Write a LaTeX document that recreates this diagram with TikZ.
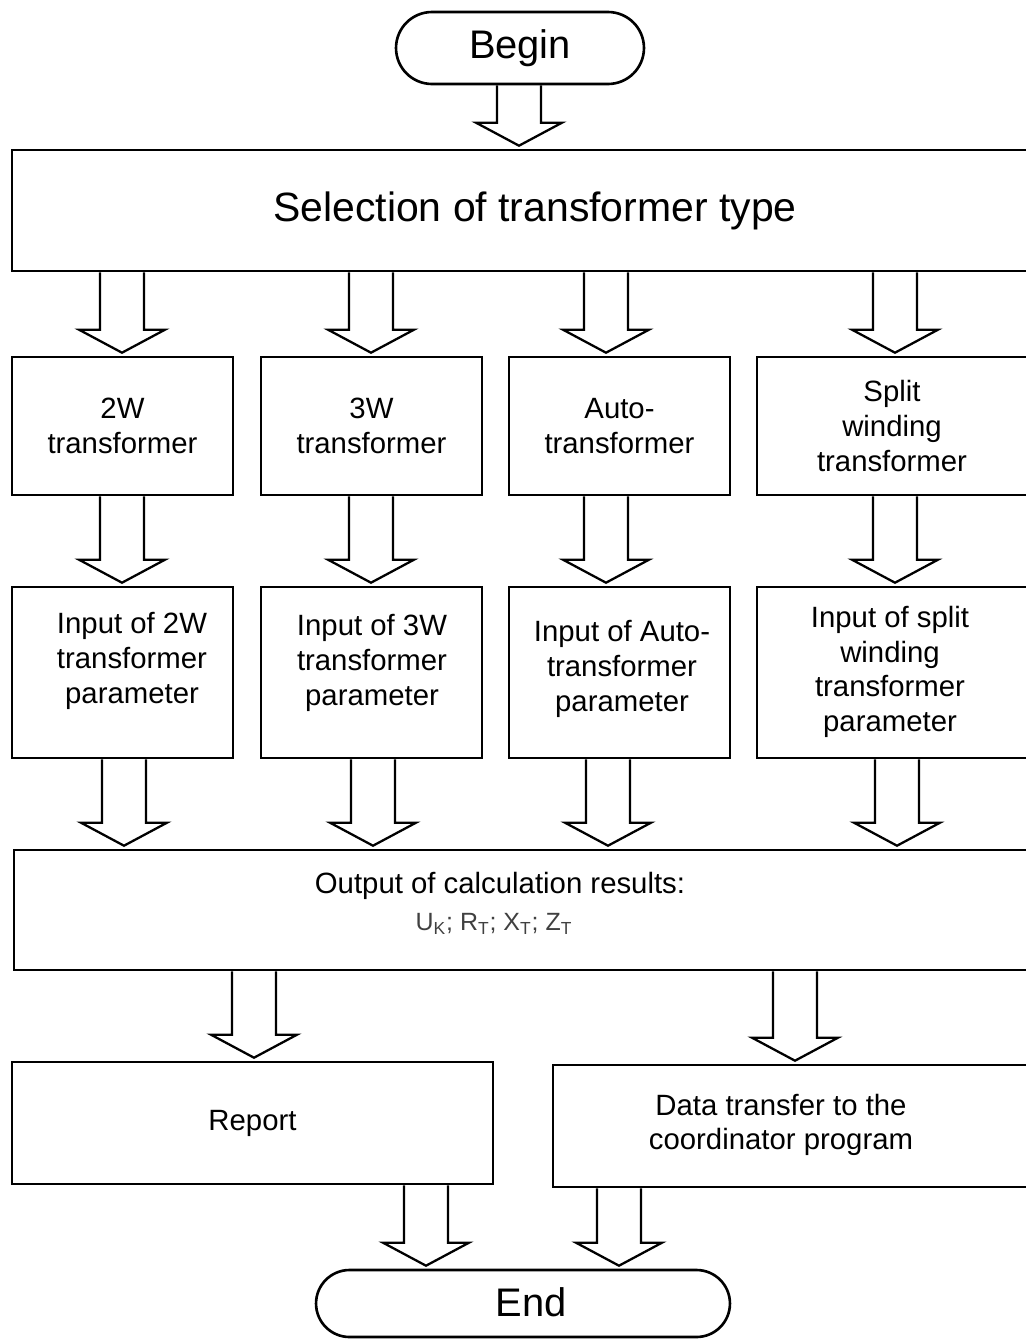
\documentclass[tikz,border=0pt]{standalone}
\usepackage{fontspec}
\setmainfont{Liberation Sans}
\usetikzlibrary{calc,shapes.misc}

\newcommand{\bigtext}{\fontsize{22.7}{27}\selectfont}
\newcommand{\midtext}{\fontsize{16.7}{19.8}\selectfont}
\newcommand{\subtext}{\fontsize{14.2}{17}\selectfont}

\tikzset{
  box/.style={draw, line width=1.5pt, inner sep=0pt, align=center, font=\midtext},
  term/.style={draw, line width=1.5pt, rounded rectangle, inner sep=0pt, font=\bigtext},
  fat/.style={line width=1.3pt},
}

% hollow block arrow: #1 start on the upper box, #2 point on the lower box
\newcommand{\fatarrow}[2]{%
  \draw[fat] ($(#1)+(-22,0)$) -- ($(#2)+(-22,-26)$) -- ($(#2)+(-43,-26)$)
    -- ($(#2)+(0,-3)$) -- ($(#2)+(43,-26)$) -- ($(#2)+(22,-26)$) -- ($(#1)+(22,0)$);}

\begin{document}
\begin{tikzpicture}[x=0.02cm, y=-0.02cm]
  \useasboundingbox (0,0) rectangle (1025,1339);

  \node[term, minimum width=4.96cm, minimum height=1.44cm] (begin) at (520,48) {Begin};
  \node[box, font=\fontsize{23.3}{28}\selectfont, minimum width=20.92cm, minimum height=2.42cm] (select) at (535,210.5)
    {Selection of transformer type};

  % transformer types
  \node[box, minimum width=4.42cm, minimum height=2.76cm] (twow) at (122.5,426) {2W\\transformer};
  \node[box, minimum width=4.42cm, minimum height=2.76cm] (thrw) at (371.5,426) {3W\\transformer};
  \node[box, minimum width=4.42cm, minimum height=2.76cm] (auto) at (619.5,426) {Auto-\\transformer};
  \node[box, minimum width=5.4cm, minimum height=2.76cm] (split) at (892,426) {Split\\winding\\transformer};

  % parameter input
  \node[box, minimum width=4.42cm, minimum height=3.42cm] (intwow) at (122.5,672.5) {};
  \node[box, minimum width=4.42cm, minimum height=3.42cm] (inthrw) at (371.5,672.5) {};
  \node[box, minimum width=4.42cm, minimum height=3.42cm] (inauto) at (619.5,672.5) {};
  \node[box, minimum width=5.4cm, minimum height=3.42cm] (insplit) at (892,672.5) {};
  \node[font=\midtext, align=center] (intwowtxt) at (132,661) {Input of 2W\\transformer\\parameter};
  \node[font=\midtext, align=center] (inthrwtxt) at (372,663) {Input of 3W\\transformer\\parameter};
  \node[font=\midtext, align=center] (inautotxt) at (622,669) {Input of Auto-\\transformer\\parameter};
  \node[font=\midtext, align=center] (insplittxt) at (890,672) {Input of split\\winding\\transformer\\parameter};

  % results
  \node[box, minimum width=20.52cm, minimum height=2.4cm] (output) at (527,910) {};
  \node[font=\midtext] (outtxt) at (500,886) {Output of calculation results:};
  \node[font=\subtext, text=black!75] (outvals) at (494,924)
    {U\textsubscript{K}; R\textsubscript{T}; X\textsubscript{T}; Z\textsubscript{T}};

  \node[box, minimum width=9.62cm, minimum height=2.44cm] (report) at (252.5,1123) {Report};
  \node[box, minimum width=9.74cm, minimum height=2.44cm] (transfer) at (796.5,1126) {};
  \node[font=\midtext, align=center] (transfertxt) at (781,1125) {Data transfer to the\\coordinator program};

  \node[term, minimum width=8.28cm, minimum height=1.34cm] (finish) at (523,1303.5) {};
  \node[font=\bigtext] (finishtxt) at (531,1302) {End};

  % arrows
  \foreach \x/\a/\b in {519/begin/select,
      122/select/twow, 371/select/thrw, 606/select/auto, 895/select/split,
      122/twow/intwow, 371/thrw/inthrw, 606/auto/inauto, 895/split/insplit,
      124/intwow/output, 373/inthrw/output, 608/inauto/output, 897/insplit/output,
      254/output/report, 795/output/transfer,
      426/report/finish, 619/transfer/finish}
  {
    \coordinate (p) at (\x,0);
    \fatarrow{p |- \a.south}{p |- \b.north}
  }
\end{tikzpicture}
\end{document}
